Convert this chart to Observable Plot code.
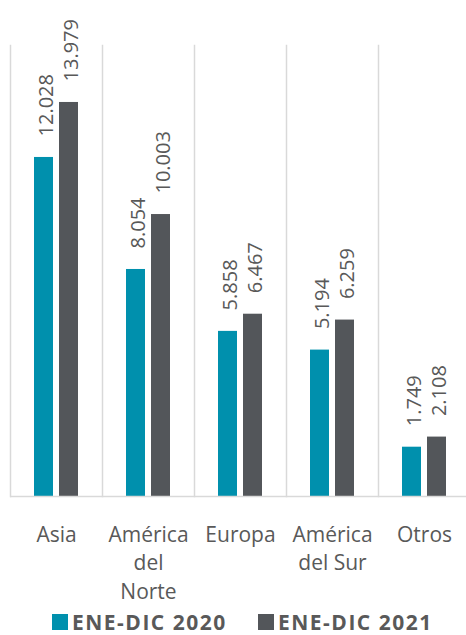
<!DOCTYPE html>
<html><head><meta charset="utf-8">
<script src="https://cdn.jsdelivr.net/npm/d3@7"></script>
<script src="https://cdn.jsdelivr.net/npm/@observablehq/plot@0.6"></script>
<style>
body{margin:0;background:#fff;font-family:"Open Sans",sans-serif;overflow:hidden;}
#chart svg{display:block;}
#legend{position:relative;height:35px;margin-top:0px;}
.item{position:absolute;top:0;display:flex;align-items:center;height:35px;color:#595959;font-weight:bold;font-size:21px;letter-spacing:1.5px;}
.sw{width:16px;height:16px;margin-right:4px;}
</style></head><body><div id="chart"></div><div id="legend"></div>
<script>
const categories = ["Asia", "América del Norte", "Europa", "América del Sur", "Otros"];
const tickLabels = ["Asia", "América\ndel\nNorte", "Europa", "América\ndel Sur", "Otros"];
const series = ["ENE-DIC 2020", "ENE-DIC 2021"];
const values2020 = [12028, 8054, 5858, 5194, 1749];
const values2021 = [13979, 10003, 6467, 6259, 2108];
const colors = ["#0090ad", "#53565a"];

const data = categories.flatMap((c, i) => [
  {cat: c, series: series[0], value: values2020[i]},
  {cat: c, series: series[1], value: values2021[i]}
]);
const fmt = d3.formatLocale({decimal: ",", thousands: ".", grouping: [3], currency: ["", ""]}).format(",");
const labelOf = new Map(categories.map((c, i) => [c, tickLabels[i]]));

const H = 604;
const chart = Plot.plot({
  width: 466,
  height: H,
  marginTop: 45,
  marginBottom: H - 496,
  marginLeft: 9,
  marginRight: -5,
  style: {fontFamily: "'Open Sans', sans-serif", color: "#595959", background: "#fff"},
  fx: {domain: categories, padding: 0, label: null},
  x: {domain: series, paddingInner: 0.2308, paddingOuter: 0.892, axis: null},
  y: {domain: [0, 16000], axis: null},
  color: {domain: series, range: colors},
  marks: [
    Plot.frame({anchor: "left", stroke: "#d9d9d9", strokeWidth: 1.5}),
    Plot.barY(data, {fx: "cat", x: "series", y: "value", fill: "series"}),
    Plot.ruleY([0], {stroke: "#d9d9d9", strokeWidth: 1.5}),
    Plot.text(data, {fx: "cat", x: "series", y: "value", text: d => fmt(d.value), rotate: -90,
      textAnchor: "start", lineAnchor: "middle", dy: -21, dx: 3, fontSize: 20, fill: "#595959", letterSpacing: 0.7}),
    Plot.axisFx({anchor: "bottom", tickSize: 0, tickPadding: 25, fontSize: 21, lineHeight: 1.36, letterSpacing: 0.8,
      tickFormat: d => labelOf.get(d), label: null, fill: "#595959"})
  ]
});
document.getElementById("chart").append(chart);

const legend = document.getElementById("legend");
const lx = [52, 258];
series.forEach((s, i) => {
  const it = document.createElement("div");
  it.className = "item";
  it.style.left = lx[i] + "px";
  it.innerHTML = `<div class="sw" style="background:${colors[i]}"></div><span>${s}</span>`;
  legend.append(it);
});
</script></body></html>
